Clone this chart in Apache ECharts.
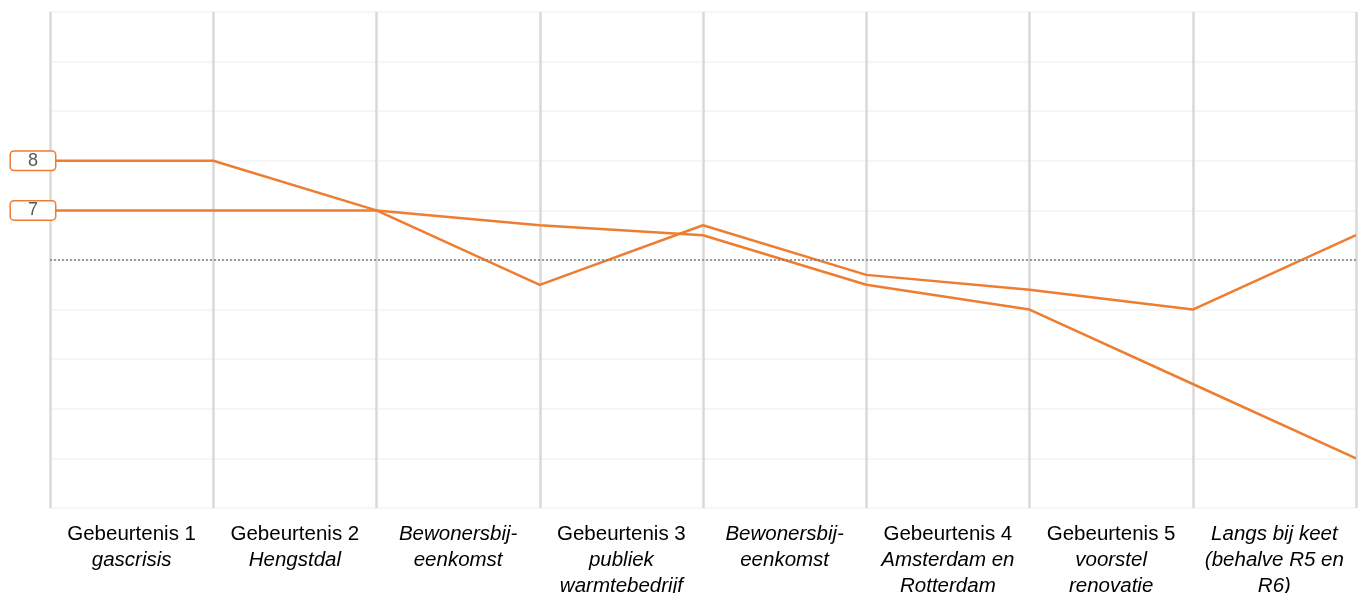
<!DOCTYPE html>
<html>
<head>
<meta charset="utf-8">
<script src="https://cdn.jsdelivr.net/npm/echarts@6/dist/echarts.min.js"></script>
<style>
html,body{margin:0;padding:0;background:#fff;}
#chart{width:1360px;height:593px;}
</style>
</head>
<body>
<div id="chart"></div>
<script>
// Category labels (band centred): normal title + italic subtitle
const catTitles = ['Gebeurtenis 1', 'Gebeurtenis 2', '', 'Gebeurtenis 3', '', 'Gebeurtenis 4', 'Gebeurtenis 5', ''];
const catSubtitles = ['gascrisis', 'Hengstdal', 'Bewonersbij-\neenkomst', 'publiek\nwarmtebedrijf', 'Bewonersbij-\neenkomst', 'Amsterdam en\nRotterdam', 'voorstel\nrenovatie', 'Langs bij keet\n(behalve R5 en\nR6)'];
// Measurement points (on band boundaries)
const pointKeys = ['p0', 'p1', 'p2', 'p3', 'p4', 'p5', 'p6', 'p7', 'p8'];
const seriesA = [8, 8, 7, 5.5, 6.7, 5.7, 5.4, 5.0, 6.5];
const seriesB = [7, 7, 7, 6.7, 6.5, 5.5, 5.0, 3.5, 2.0];
const referenceValue = 6;

const ORANGE = '#ED7D31';

function withStartLabel(arr) {
  return arr.map((v, i) => i === 0 ? {
    value: v,
    label: {
      show: true, position: 'left', distance: -7, offset: [-24, 0],
      formatter: '{c}', color: '#595959', fontSize: 18,
      fontFamily: 'Liberation Sans',
      backgroundColor: '#fff', borderColor: ORANGE, borderWidth: 1.5,
      borderRadius: 3, width: 44, height: 18, align: 'center',
      lineHeight: 18, padding: [0, 0]
    }
  } : v);
}

const chart = echarts.init(document.getElementById('chart'), null, {renderer: 'canvas'});
chart.setOption({
  animation: false,
  backgroundColor: '#fff',
  grid: {left: 50, right: 4, top: 12, bottom: 85, containLabel: false, outerBoundsMode: 'none'},
  xAxis: [{
    type: 'category',
    data: catTitles.map((t, i) => i),
    boundaryGap: true,
    axisLine: {show: false},
    axisTick: {show: false},
    splitLine: {show: true, lineStyle: {color: '#d9d9d9', width: 2.5}},
    axisLabel: {
      interval: 0, margin: 13,
      formatter: function (v) {
        const i = +v;
        const parts = [];
        if (catTitles[i]) parts.push('{a|' + catTitles[i] + '}');
        catSubtitles[i].split('\n').forEach(s => parts.push('{b|' + s + '}'));
        return parts.join('\n');
      },
      rich: {
        a: {fontFamily: 'Liberation Sans', fontSize: 20.5, color: '#000', lineHeight: 26, align: 'center'},
        b: {fontFamily: 'Liberation Sans', fontSize: 20.5, fontStyle: 'italic', color: '#000', lineHeight: 26, align: 'center'}
      }
    }
  }, {
    type: 'category',
    data: pointKeys,
    boundaryGap: false,
    show: false
  }],
  yAxis: {
    type: 'value', min: 1, max: 11, interval: 1,
    axisLine: {show: false}, axisTick: {show: false}, axisLabel: {show: false},
    splitLine: {show: true, lineStyle: {color: '#f3f3f3', width: 1.5}}
  },
  series: [{
    type: 'line', xAxisIndex: 1, data: withStartLabel(seriesA),
    symbol: 'circle', showSymbol: true, symbolSize: 0.1,
    lineStyle: {color: ORANGE, width: 2.5}, itemStyle: {color: ORANGE},
    markLine: {
      silent: true, symbol: 'none', label: {show: false},
      lineStyle: {color: '#7f7f7f', type: [2, 2], width: 1.5},
      data: [{yAxis: referenceValue}]
    }
  }, {
    type: 'line', xAxisIndex: 1, data: withStartLabel(seriesB),
    symbol: 'circle', showSymbol: true, symbolSize: 0.1,
    lineStyle: {color: ORANGE, width: 2.5}, itemStyle: {color: ORANGE}
  }]
});
</script>
</body>
</html>
